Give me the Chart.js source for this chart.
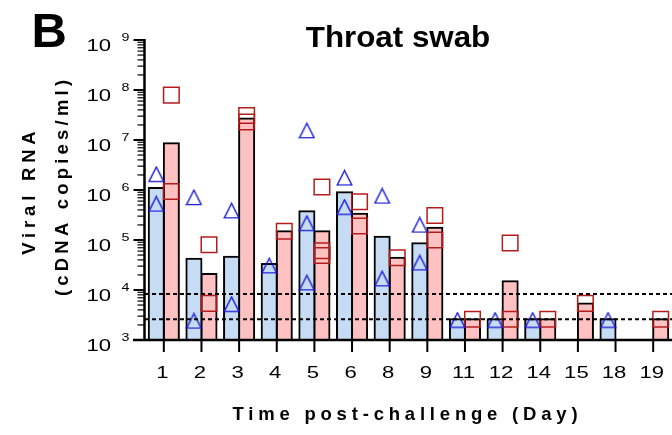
<!DOCTYPE html>
<html lang="en">
<head>
  <meta charset="UTF-8" />
  <title>Throat swab</title>
  <script src="https://cdn.jsdelivr.net/npm/chart.js"></script>
  <style>
    body { margin: 0; background: #fff; }
    .wrap { width: 672px; height: 435px; position: relative; }
  </style>
</head>
<body>
  <div class="wrap"><canvas id="chart"></canvas></div>

  <script>
    // Days post-challenge (x categories)
    const days = ['1', '2', '3', '4', '5', '6', '8', '9', '11', '12', '14', '15', '18', '19'];

    // Geometric mean bars per day (blue group / pink group), null = no bar
    const meanBlue = [1.1e6, 4.2e4, 4.6e4, 3.3e4, 3.75e5, 9.0e5, 1.16e5, 8.6e4, 2.6e3, 2.6e3, 2.6e3, null, 2.6e3, null];
    const meanPink = [8.6e6, 2.1e4, 2.7e7, 1.5e5, 1.5e5, 3.36e5, 4.4e4, 1.76e5, 2.6e3, 1.49e4, 2.6e3, 5.4e3, null, 2.6e3];

    // Individual animals per day
    const indivBlue = [
      [2.06e6, 5.25e5], [7.1e5, 2.4e3], [3.85e5, 5.2e3], [3.06e4], [1.54e7, 2.16e5, 1.4e4],
      [1.75e6, 4.55e5], [7.6e5, 1.68e4], [2.0e5, 3.5e4], [2.5e3], [2.5e3], [2.5e3], [], [2.5e3], []
    ];
    const indivPink = [
      [7.9e7, 9.3e5], [8.0e4, 5.4e3], [3.1e7, 2.3e7], [1.5e5], [1.15e6, 6.1e4, 4.9e4],
      [5.8e5, 1.9e5], [4.4e4], [3.1e5, 1.0e5], [2.6e3], [8.7e4, 2.6e3], [2.6e3], [5.4e3], [], [2.6e3]
    ];

    // Limits of detection (dotted lines)
    const detectionLimits = [8.3e3, 2.6e3];

    // Log axis decades
    const yExponents = [3, 4, 5, 6, 7, 8, 9];

    const FONT = '"Liberation Sans", Arial, sans-serif';

    function toPoints(groups, shift) {
      const pts = [];
      groups.forEach((vals, i) => vals.forEach(v => pts.push({ x: i + shift, y: v })));
      return pts;
    }
    const toBars = vals => vals.map((v, i) => ({ x: i, y: v }));

    // open triangle marker, centred on its box
    const tri = document.createElement('canvas');
    tri.width = 17; tri.height = 17;
    (function () {
      const c = tri.getContext('2d');
      c.strokeStyle = '#1c1cd6';
      c.lineWidth = 1.4;
      c.beginPath();
      c.moveTo(1.2, 15.6);
      c.lineTo(15.8, 15.6);
      c.lineTo(8.5, 1.2);
      c.closePath();
      c.stroke();
    })();

    function text(ctx, str, x, y, size, opt = {}) {
      ctx.save();
      ctx.font = (opt.bold ? 'bold ' : '') + size + 'px ' + FONT;
      const sp = opt.spacing || 0;
      ctx.letterSpacing = sp + 'px';
      ctx.textAlign = opt.align || 'center';
      ctx.textBaseline = 'alphabetic';
      ctx.fillStyle = '#000';
      ctx.translate(x, y);
      if (opt.rotate) ctx.rotate(opt.rotate);
      ctx.scale(opt.stretch || 1, 1);
      ctx.fillText(str, (ctx.textAlign === 'center') ? sp / 2 : 0, 0);
      ctx.restore();
    }

    const axesPlugin = {
      id: 'axes',
      afterDatasetsDraw(chart) {
        const { ctx, chartArea: a } = chart;
        const x = chart.scales.x, y = chart.scales.y;
        ctx.save();

        // dotted detection limits
        ctx.strokeStyle = '#000';
        ctx.lineWidth = 2;
        ctx.setLineDash([4, 3]);
        detectionLimits.forEach(v => {
          const py = y.getPixelForValue(v);
          ctx.beginPath();
          ctx.moveTo(a.left, py);
          ctx.lineTo(a.right, py);
          ctx.stroke();
        });
        ctx.setLineDash([]);

        // y ticks
        yExponents.forEach(n => {
          const py = y.getPixelForValue(Math.pow(10, n));
          ctx.lineWidth = 2;
          ctx.beginPath();
          ctx.moveTo(133.5, py);
          ctx.lineTo(a.left, py);
          ctx.stroke();
          text(ctx, '10', 111, py + 10.5, 17, { align: 'right', stretch: 1.3 });
          text(ctx, String(n), 121.5, py + 1, 11, { align: 'left', stretch: 1.3 });
          if (n < 9) {
            ctx.lineWidth = 1.2;
            for (let k = 2; k <= 9; k++) {
              const pm = y.getPixelForValue(k * Math.pow(10, n));
              ctx.beginPath();
              ctx.moveTo(137.5, pm);
              ctx.lineTo(a.left, pm);
              ctx.stroke();
            }
          }
        });

        // axis lines
        ctx.lineWidth = 2.5;
        ctx.beginPath();
        ctx.moveTo(a.left - 0.5, a.top - 1);
        ctx.lineTo(a.left - 0.5, a.bottom);
        ctx.moveTo(133, a.bottom);
        ctx.lineTo(a.right, a.bottom);
        ctx.stroke();

        // x ticks and labels
        ctx.lineWidth = 2;
        days.forEach((d, i) => {
          const px = x.getPixelForValue(i);
          ctx.beginPath();
          ctx.moveTo(px, a.bottom);
          ctx.lineTo(px, a.bottom + 12);
          ctx.stroke();
          text(ctx, d, px - 1.5, 378, 17, { stretch: 1.3 });
        });

        // titles
        text(ctx, 'B', 31.5, 47, 49, { bold: true, align: 'left' });
        text(ctx, 'Throat swab', 398, 47, 29, { bold: true, stretch: 1.08 });
        text(ctx, 'Time post-challenge (Day)', 405, 420, 18.5, { bold: true, spacing: 4.8 });
        text(ctx, 'Viral RNA', 35, 193, 18.5, { bold: true, spacing: 4.8, rotate: -Math.PI / 2 });
        text(ctx, '(cDNA copies/ml)', 68, 188, 18.5, { bold: true, spacing: 4.2, rotate: -Math.PI / 2 });

        ctx.restore();
      }
    };

    new Chart(document.getElementById('chart'), {
      type: 'bar',
      data: {
        datasets: [
          {
            type: 'scatter',
            data: toPoints(indivBlue, -0.2),
            pointStyle: tri,
            pointRadius: 8,
            showLine: false,
            order: 0
          },
          {
            type: 'scatter',
            data: toPoints(indivPink, 0.2),
            pointStyle: 'rect',
            pointRadius: 11,
            borderColor: '#b41c1c',
            borderWidth: 1.5,
            backgroundColor: 'rgba(0,0,0,0)',
            showLine: false,
            order: 0
          },
          {
            data: toBars(meanBlue),
            backgroundColor: '#c6dcf5',
            borderColor: '#000',
            borderWidth: 2,
            inflateAmount: 1,
            categoryPercentage: 0.8,
            barPercentage: 1.0,
            order: 1
          },
          {
            data: toBars(meanPink),
            backgroundColor: '#ffc1c1',
            borderColor: '#000',
            borderWidth: 2,
            inflateAmount: 1,
            categoryPercentage: 0.8,
            barPercentage: 1.0,
            order: 1
          }
        ]
      },
      options: {
        responsive: true,
        maintainAspectRatio: false,
        animation: false,
        layout: { autoPadding: false, padding: { left: 145, right: 0, top: 40, bottom: 95 } },
        plugins: { legend: { display: false }, tooltip: { enabled: false } },
        scales: {
          x: {
            type: 'linear', display: false, offset: false, min: -0.5, max: 13.5,
            afterBuildTicks: s => { s.ticks = days.map((d, i) => ({ value: i })); }
          },
          y: { type: 'logarithmic', display: false, min: 1e3, max: 1e9 }
        }
      },
      plugins: [axesPlugin]
    });
  </script>
</body>
</html>
